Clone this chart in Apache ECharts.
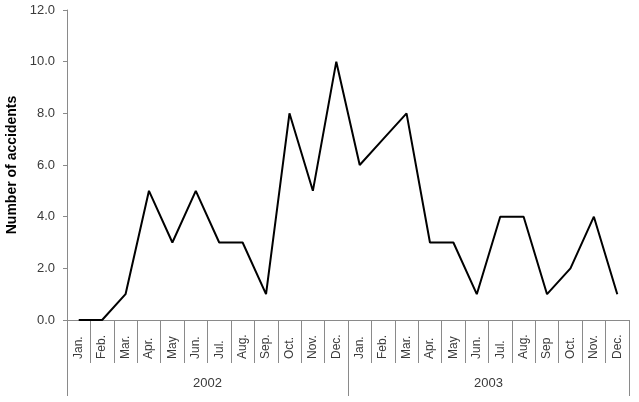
<!DOCTYPE html>
<html>
<head>
<meta charset="utf-8">
<script src="https://cdn.jsdelivr.net/npm/echarts@6/dist/echarts.min.js"></script>
<style>
html, body { margin: 0; padding: 0; background: #fff; }
#chart { width: 639px; height: 402px; }
</style>
</head>
<body>
<div id="chart"></div>
<script>
var months = ['Jan.', 'Feb.', 'Mar.', 'Apr.', 'May', 'Jun.', 'Jul.', 'Aug.', 'Sep.', 'Oct.', 'Nov.', 'Dec.',
	'Jan.', 'Feb.', 'Mar.', 'Apr.', 'May', 'Jun.', 'Jul.', 'Aug.', 'Sep', 'Oct.', 'Nov.', 'Dec.'];
var years = ['2002', '2003'];
var accidents = [0, 0, 1, 5, 3, 5, 3, 3, 1, 8, 5, 10,
	6, 7, 8, 3, 3, 1, 4, 4, 1, 2, 4, 1];

var chart = echarts.init(document.getElementById('chart'));
var axisColor = '#8a8a8a';
var textColor = '#3a3a3a';
var font = 'Liberation Sans, Arial, sans-serif';

var option = {
	animation: false,
	grid: { left: 67, right: 10, top: 10, bottom: 82, containLabel: false, outerBoundsMode: 'none' },
	xAxis: [{
		type: 'category',
		data: months,
		boundaryGap: true,
		axisLine: { show: true, lineStyle: { color: axisColor, width: 1 } },
		axisTick: { show: true, alignWithLabel: false, interval: 0, length: 43, lineStyle: { color: axisColor } },
		axisLabel: {
			interval: 0, rotate: 90, align: 'left', margin: 39,
			fontSize: 12, color: textColor, fontFamily: font
		},
		splitLine: { show: false }
	}, {
		type: 'category',
		data: years,
		position: 'bottom',
		boundaryGap: true,
		axisLine: { show: false },
		axisTick: { show: true, alignWithLabel: false, interval: 0, length: 76, lineStyle: { color: axisColor } },
		axisLabel: { margin: 57, fontSize: 13, color: textColor, fontFamily: font },
		splitLine: { show: false }
	}],
	yAxis: {
		type: 'value',
		min: 0,
		max: 12,
		interval: 2,
		name: 'Number of accidents',
		nameLocation: 'middle',
		nameGap: 46,
		nameTextStyle: { fontSize: 14, fontWeight: 'bold', color: '#000', fontFamily: font },
		axisLine: { show: true, lineStyle: { color: axisColor } },
		axisTick: { show: true, length: 4, lineStyle: { color: axisColor } },
		axisLabel: {
			margin: 12, fontSize: 13, color: textColor, fontFamily: font,
			formatter: function (v) { return v.toFixed(1); }
		},
		splitLine: { show: false }
	},
	series: [{
		type: 'line',
		data: accidents,
		xAxisIndex: 0,
		showSymbol: false,
		lineStyle: { color: '#000', width: 2 },
		itemStyle: { color: '#000' }
	}]
};
chart.setOption(option);
</script>
</body>
</html>
